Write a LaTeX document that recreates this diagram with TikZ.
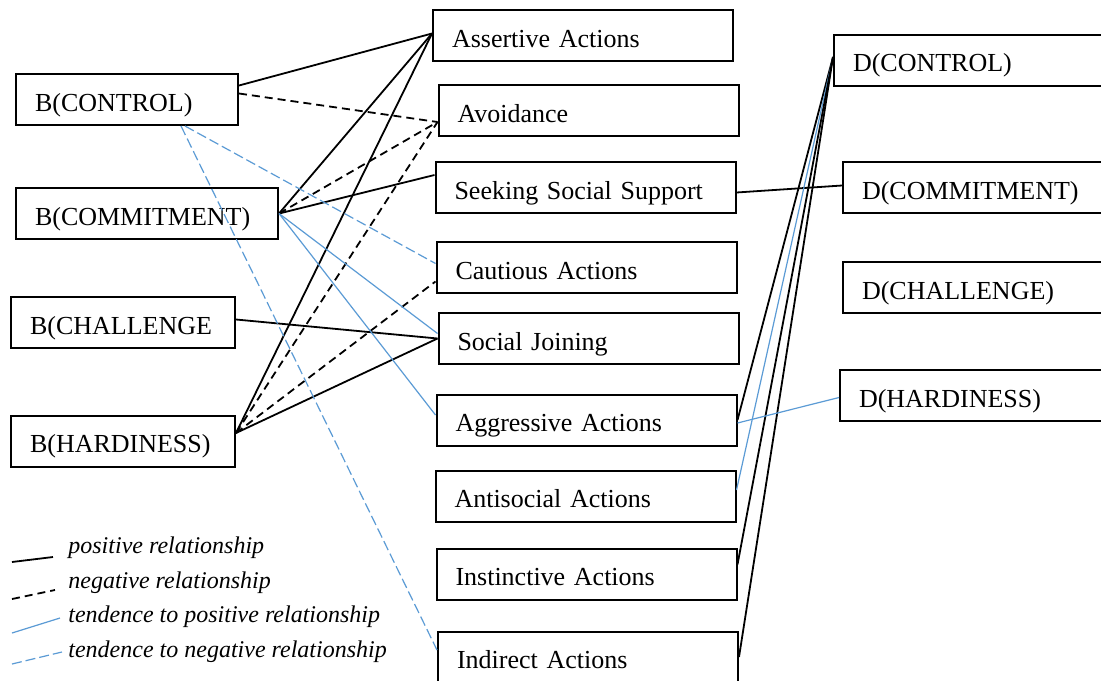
\documentclass[tikz,border=0pt]{standalone}
\usepackage{fontspec}
\setmainfont{Liberation Serif}
\usepackage{xcolor}
\usepackage{tikz}
\usetikzlibrary{positioning}
\definecolor{tblue}{RGB}{91,155,213}
\tikzstyle{fac} = [rectangle, draw, line width=1pt, text width=93pt, align=left, inner xsep=9.5pt, text height=11.6pt, text depth=0pt, minimum height=25.5pt, font=\fontsize{13}{15}\selectfont]
\tikzstyle{act} = [fac, text width=131pt]
\tikzstyle{dfac} = [fac, text width=131pt]
\tikzstyle{legtext} = [anchor=west, inner sep=0pt, font=\fontsize{12}{14}\selectfont\itshape]
\tikzstyle{posrel} = [draw, line width=0.9pt]
\tikzstyle{negrel} = [draw, line width=0.9pt, dash pattern=on 4pt off 2.5pt]
\tikzstyle{tpos} = [draw, tblue, line width=0.6pt]
\tikzstyle{tneg} = [draw, tblue, line width=0.6pt, dash pattern=on 5pt off 2pt]

\begin{document}
\begin{tikzpicture}[x=0.5pt, y=-0.5pt, node distance=39pt, auto]
        \path[use as bounding box, fill=white] (0,0) rectangle (1101,680);
        \clip (0,0) rectangle (1101,680);
        % Nodes
        \node (b_ctl) [fac, text width=92pt] at (127,99.5) {B(CONTROL)};
        \node (b_com) [fac, text width=112pt, below of=b_ctl, xshift=10pt, yshift=-18pt] {B(COMMITMENT)};
        \node (b_cha) [fac, below of=b_com, xshift=-12pt, yshift=-15.5pt] {B(CHALLENGE};
        \node (b_har) [fac, below of=b_cha, yshift=-20.25pt] {B(HARDINESS)};
        % coping actions
        \node (assert) [act] at (583,35.5) {Assertive Actions};
        \node (avoid) [act, below of=assert, xshift=2.75pt, yshift=1.5pt] {Avoidance};
        \node (seek) [act, below of=avoid, xshift=-1.5pt, yshift=0.5pt] {Seeking Social Support};
        \node (caut) [act, below of=seek, xshift=0.5pt, yshift=-1pt] {Cautious Actions};
        \node (join) [act, below of=caut, xshift=1pt, yshift=3.5pt] {Social Joining};
        \node (aggr) [act, below of=join, xshift=-1pt, yshift=-1.75pt] {Aggressive Actions};
        \node (anti) [act, below of=aggr, xshift=-0.5pt, yshift=1pt] {Antisocial Actions};
        \node (inst) [act, below of=anti, xshift=0.5pt] {Instinctive Actions};
        \node (indir) [act, below of=inst, xshift=0.75pt, yshift=-2.5pt] {Indirect Actions};
        % D factors
        \node (d_ctl) [dfac] at (984,60) {D(CONTROL)};
        \node (d_com) [dfac, below of=d_ctl, xshift=4.5pt, yshift=-24.75pt] {D(COMMITMENT)};
        \node (d_cha) [dfac, below of=d_com, yshift=-11pt] {D(CHALLENGE)};
        \node (d_har) [dfac, below of=d_cha, xshift=-1.5pt, yshift=-15pt] {D(HARDINESS)};
        % legend
        \node (l_pos) [legtext] at (68,548) {positive relationship};
        \node (l_neg) [legtext, below=17.25pt of l_pos.west, anchor=west] {negative relationship};
        \node (l_tpos) [legtext, below=17.25pt of l_neg.west, anchor=west] {tendence to positive relationship};
        \node (l_tneg) [legtext, below=17.25pt of l_tpos.west, anchor=west] {tendence to negative relationship};
        % Edges
        \path [posrel] ([yshift=7pt]b_ctl.east) -- ([yshift=1pt]assert.west);
        \path [posrel] (b_com.east) -- ([yshift=1pt]assert.west);
        \path [posrel] ([yshift=4pt]b_har.east) -- ([yshift=1pt]assert.west);
        \path [posrel] (b_com.east) -- ([yshift=6.25pt]seek.west);
        \path [posrel] ([yshift=1.5pt]b_cha.east) -- (join.west);
        \path [posrel] ([yshift=4pt]b_har.east) -- (join.west);
        \path [negrel] ([yshift=3pt]b_ctl.east) -- ([yshift=-5.75pt]avoid.west);
        \path [negrel] (b_com.east) -- ([yshift=-5.75pt]avoid.west);
        \path [negrel] ([yshift=4pt]b_har.east) -- ([yshift=-5.75pt]avoid.west);
        \path [negrel] ([yshift=4pt]b_har.east) -- ([yshift=-7pt]caut.west);
        \path [tpos] (b_com.east) -- ([yshift=2.5pt]join.west);
        \path [tpos] (b_com.east) -- ([yshift=2.5pt]aggr.west);
        \path [tneg] ([xshift=29pt]b_ctl.south) -- ([yshift=2pt]caut.west);
        \path [tneg] ([xshift=27pt]b_ctl.south) -- ([yshift=3.5pt]indir.west);
        % into the D factors
        \path [posrel] ([yshift=-2.5pt]seek.east) -- ([yshift=1pt]d_com.west);
        \path [posrel] (aggr.east) -- ([yshift=1.5pt]d_ctl.west);
        \path [tpos] ([yshift=3pt]anti.east) -- ([yshift=1.5pt]d_ctl.west);
        \path [posrel] ([yshift=4.75pt]inst.east) -- ([yshift=1.5pt]d_ctl.west);
        \path [posrel] (indir.east) -- ([yshift=1.5pt]d_ctl.west);
        \path [tpos] ([yshift=-1.5pt]aggr.east) -- ([yshift=-1pt]d_har.west);
        % legend samples
        \path [posrel] ([shift={(-28pt,-7pt)}]l_pos.west) -- ([shift={(-7.5pt,-4.5pt)}]l_pos.west);
        \path [negrel] ([shift={(-28pt,-8.25pt)}]l_neg.west) -- ([shift={(-6.5pt,-3.75pt)}]l_neg.west);
        \path [tpos] ([shift={(-28pt,-8pt)}]l_tpos.west) -- ([shift={(-4pt,-0.5pt)}]l_tpos.west);
        \path [tneg] ([shift={(-28pt,-6.25pt)}]l_tneg.west) -- ([shift={(-3pt,-0.25pt)}]l_tneg.west);
    \end{tikzpicture}
\end{document}
